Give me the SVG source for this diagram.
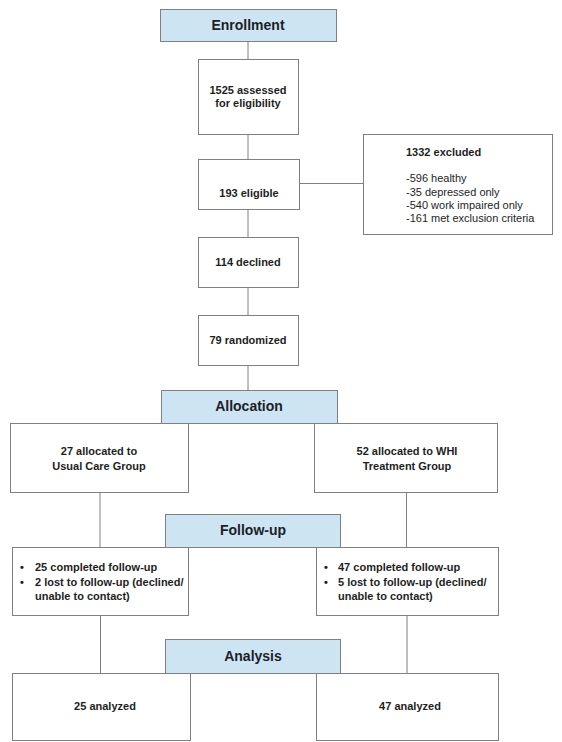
<svg xmlns="http://www.w3.org/2000/svg" width="562" height="742" viewBox="0 0 562 742">
<style>
.box{fill:#ffffff;stroke:#808080;stroke-width:1}
.hdr{fill:#cde5f3;stroke:#808080;stroke-width:1}
.ht{font-family:"Liberation Sans",Arial,sans-serif;font-weight:bold;font-size:14px;fill:#1e1e28;text-anchor:middle}
.bt{font-family:"Liberation Sans",Arial,sans-serif;font-weight:bold;font-size:11px;fill:#1e1e1e;text-anchor:middle}
.lt{font-family:"Liberation Sans",Arial,sans-serif;font-weight:bold;font-size:11px;fill:#1e1e1e}
.rt{font-family:"Liberation Sans",Arial,sans-serif;font-size:11px;fill:#1e1e1e}
.con{stroke:#808080;stroke-width:1;fill:none}
</style>
<rect width="562" height="742" fill="#ffffff"/>
<g id="connectors">
<line class="con" x1="248" y1="41" x2="248" y2="59"/>
<line class="con" x1="248" y1="134" x2="248" y2="159"/>
<line class="con" x1="299" y1="183.5" x2="363" y2="183.5"/>
<line class="con" x1="248" y1="209" x2="248" y2="237"/>
<line class="con" x1="248" y1="287" x2="248" y2="315"/>
<line class="con" x1="248" y1="365" x2="248" y2="390"/>
<line class="con" x1="100" y1="492" x2="100" y2="547"/>
<line class="con" x1="406.5" y1="492" x2="406.5" y2="547"/>
<line class="con" x1="100.5" y1="615" x2="100.5" y2="673"/>
<line class="con" x1="407" y1="615" x2="407" y2="673"/>
</g>
<g id="enrollment">
<rect class="hdr" x="160.5" y="9.5" width="176" height="32"/>
<text class="ht" x="248" y="30">Enrollment</text>
</g>
<g id="assessed">
<rect class="box" x="198.5" y="59.5" width="100" height="75"/>
<text class="bt" x="248" y="94">1525 assessed</text>
<text class="bt" x="248" y="107">for eligibility</text>
</g>
<g id="eligible">
<rect class="box" x="198.5" y="159.5" width="101" height="50"/>
<text class="bt" x="249" y="197">193 eligible</text>
</g>
<g id="excluded">
<rect class="box" x="363.5" y="134.5" width="189" height="100"/>
<text class="lt" x="406" y="156">1332 excluded</text>
<text class="rt" x="406" y="182">-596 healthy</text>
<text class="rt" x="406" y="195.5">-35 depressed only</text>
<text class="rt" x="406" y="208.5">-540 work impaired only</text>
<text class="rt" x="406" y="222">-161 met exclusion criteria</text>
</g>
<g id="declined">
<rect class="box" x="198.5" y="237.5" width="100" height="50"/>
<text class="bt" x="248" y="266">114 declined</text>
</g>
<g id="randomized">
<rect class="box" x="198.5" y="315.5" width="100" height="50"/>
<text class="bt" x="248" y="344">79 randomized</text>
</g>
<g id="allocation">
<rect class="hdr" x="161.5" y="390.5" width="176" height="33"/>
<text class="ht" x="249" y="411">Allocation</text>
</g>
<g id="usual-care">
<rect class="box" x="10.5" y="423.5" width="178" height="69"/>
<text class="bt" x="99" y="455">27 allocated to</text>
<text class="bt" x="99" y="470">Usual Care Group</text>
</g>
<g id="whi-treatment">
<rect class="box" x="314.5" y="423.5" width="183" height="69"/>
<text class="bt" x="407" y="455">52 allocated to WHI</text>
<text class="bt" x="407" y="470">Treatment Group</text>
</g>
<g id="follow-up">
<rect class="hdr" x="165.5" y="514.5" width="175" height="33"/>
<text class="ht" x="253" y="535">Follow-up</text>
</g>
<g id="followup-left">
<rect class="box" x="12.5" y="547.5" width="176" height="68"/>
<text class="lt" x="20" y="571">•</text>
<text class="lt" x="35" y="571">25 completed follow-up</text>
<text class="lt" x="20" y="585.5">•</text>
<text class="lt" x="35" y="585.5">2 lost to follow-up (declined/</text>
<text class="lt" x="35" y="600">unable to contact)</text>
</g>
<g id="followup-right">
<rect class="box" x="316.5" y="547.5" width="182" height="68"/>
<text class="lt" x="324" y="571">•</text>
<text class="lt" x="338" y="571">47 completed follow-up</text>
<text class="lt" x="324" y="585.5">•</text>
<text class="lt" x="338" y="585.5">5 lost to follow-up (declined/</text>
<text class="lt" x="338" y="600">unable to contact)</text>
</g>
<g id="analysis">
<rect class="hdr" x="165.5" y="639.5" width="175" height="34"/>
<text class="ht" x="253" y="661">Analysis</text>
</g>
<g id="analyzed-left">
<rect class="box" x="12.5" y="673.5" width="178" height="67"/>
<text class="bt" x="105" y="710">25 analyzed</text>
</g>
<g id="analyzed-right">
<rect class="box" x="316.5" y="673.5" width="182" height="67"/>
<text class="bt" x="410" y="710">47 analyzed</text>
</g>
</svg>
